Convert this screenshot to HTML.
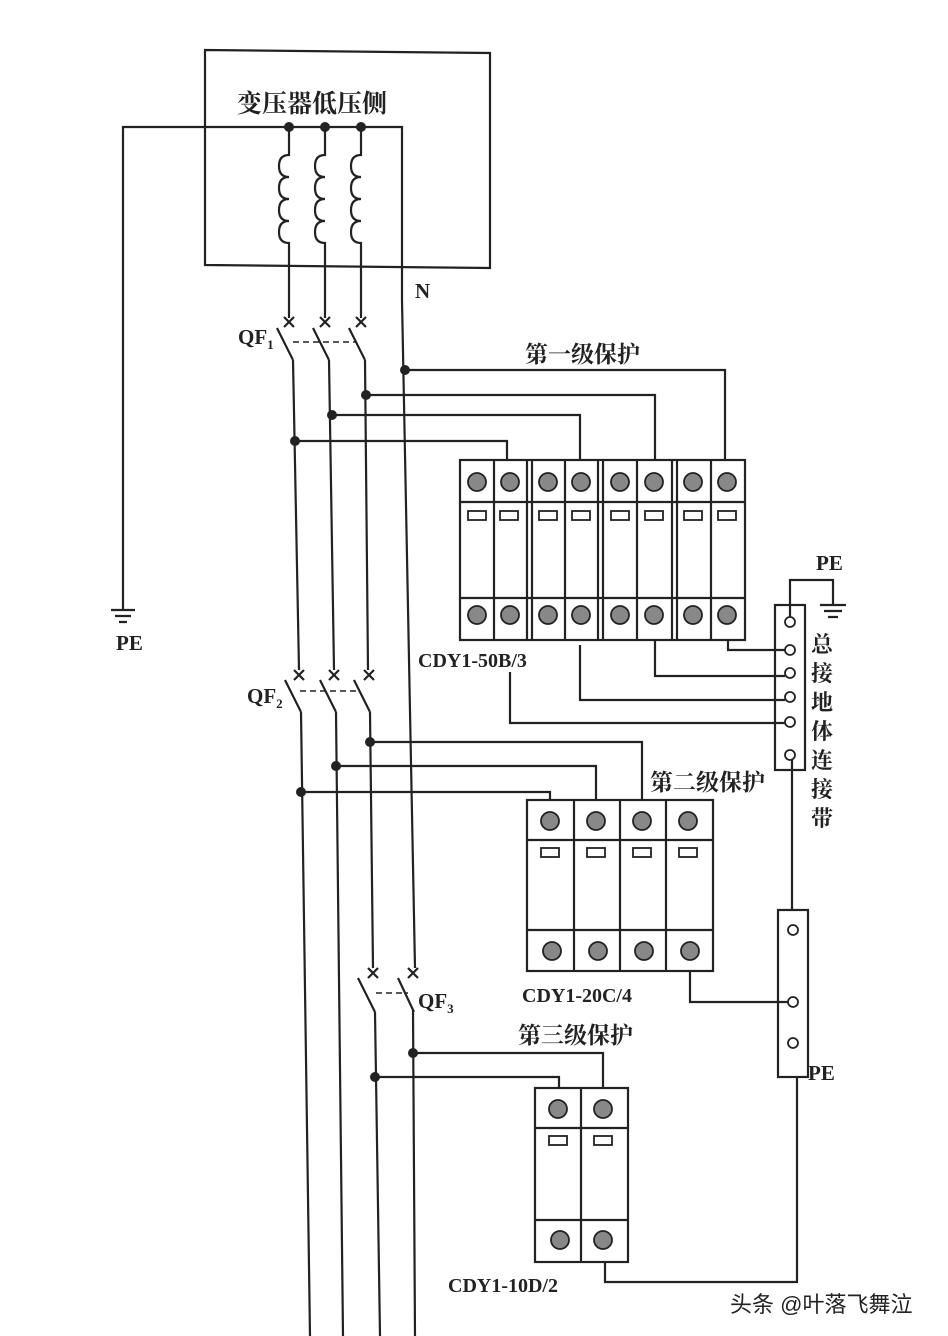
<!DOCTYPE html>
<html><head><meta charset="utf-8"><style>
html,body{margin:0;padding:0;background:#fff;}
svg{display:block}
text{font-family:"Liberation Serif","Noto Serif CJK SC",serif;fill:#222;font-weight:bold}
</style></head><body>
<svg width="948" height="1336" viewBox="0 0 948 1336" xmlns="http://www.w3.org/2000/svg">
<g stroke="#222" stroke-width="2.2" fill="none">
<polygon points="205,50 490,53 490,268 205,265"/>
<polyline points="123,610 123,127 402,127 402,300"/>
<path d="M289,127 V155 q-10,0 -10,11 q0,11 10,11 q-10,0 -10,11 q0,11 10,11 q-10,0 -10,11 q0,11 10,11 q-10,0 -10,11 q0,11 10,11 V318"/>
<path d="M325,127 V155 q-10,0 -10,11 q0,11 10,11 q-10,0 -10,11 q0,11 10,11 q-10,0 -10,11 q0,11 10,11 q-10,0 -10,11 q0,11 10,11 V318"/>
<path d="M361,127 V155 q-10,0 -10,11 q0,11 10,11 q-10,0 -10,11 q0,11 10,11 q-10,0 -10,11 q0,11 10,11 q-10,0 -10,11 q0,11 10,11 V318"/>
<line x1="402" y1="300" x2="415" y2="968"/>
<line x1="413" y1="1010" x2="415" y2="1336"/>
<path d="M284,317 l10,10 M294,317 l-10,10 M320,317 l10,10 M330,317 l-10,10 M356,317 l10,10 M366,317 l-10,10"/>
<path d="M277,328 L293,360 M313,328 L329,360 M349,328 L365,360"/>
<line x1="293" y1="342" x2="355" y2="342" stroke-dasharray="6,4" stroke-width="1.6"/>
<line x1="293" y1="360" x2="299" y2="670"/>
<line x1="329" y1="360" x2="334" y2="670"/>
<line x1="365" y1="360" x2="368" y2="670"/>
<path d="M294,670 l10,10 M304,670 l-10,10 M329,670 l10,10 M339,670 l-10,10 M364,670 l10,10 M374,670 l-10,10"/>
<path d="M285,680 L301,712 M320,680 L336,712 M354,680 L370,712"/>
<line x1="300" y1="691" x2="358" y2="691" stroke-dasharray="6,4" stroke-width="1.6"/>
<line x1="301" y1="712" x2="310" y2="1336"/>
<line x1="336" y1="712" x2="343" y2="1336"/>
<line x1="370" y1="712" x2="373" y2="968"/>
<path d="M368,968 l10,10 M378,968 l-10,10 M408,968 l10,10 M418,968 l-10,10"/>
<path d="M358,978 L375,1012 M398,978 L414,1012"/>
<line x1="376" y1="993" x2="408" y2="993" stroke-dasharray="6,4" stroke-width="1.6"/>
<line x1="375" y1="1012" x2="380" y2="1336"/>
<polyline points="405,370 725,370 725,460"/>
<polyline points="366,395 655,395 655,460"/>
<polyline points="332,415 580,415 580,460"/>
<polyline points="295,441 507,441 507,460"/>
<rect x="460" y="460" width="285" height="180"/>
<path d="M494,460 V640 M527,460 V640 M532,460 V640 M565,460 V640 M598,460 V640 M603,460 V640 M637,460 V640 M672,460 V640 M677,460 V640 M711,460 V640"/>
<path d="M460,502 H745 M460,598 H745"/>
<path d="M111,610 H135 M115,616 H131 M119,622 H127"/>
<rect x="775" y="605" width="30" height="165"/>
<polyline points="790,622 790,580 833,580 833,605"/>
<path d="M820,605 H846 M824,611 H842 M828,617 H838"/>
<polyline points="728,640 728,650 785,650"/>
<polyline points="655,640 655,676 785,676"/>
<polyline points="580,645 580,700 785,700"/>
<polyline points="510,672 510,723 785,723"/>
<line x1="792" y1="760" x2="792" y2="910"/>
<polyline points="370,742 642,742 642,800"/>
<polyline points="336,766 596,766 596,800"/>
<polyline points="301,792 550,792 550,800"/>
<rect x="527" y="800" width="186" height="171"/>
<path d="M574,800 V971 M620,800 V971 M666,800 V971 M527,840 H713 M527,930 H713"/>
<polyline points="690,971 690,1002 788,1002"/>
<rect x="778" y="910" width="30" height="167"/>
<polyline points="797,1077 797,1282 605,1282 605,1262"/>
<polyline points="413,1053 603,1053 603,1088"/>
<polyline points="375,1077 559,1077 559,1088"/>
<rect x="535" y="1088" width="93" height="174"/>
<path d="M581,1088 V1262 M535,1128 H628 M535,1220 H628"/>
</g>
<g fill="#222">
<circle cx="289" cy="127" r="5"/><circle cx="325" cy="127" r="5"/><circle cx="361" cy="127" r="5"/>
<circle cx="405" cy="370" r="5"/><circle cx="366" cy="395" r="5"/><circle cx="332" cy="415" r="5"/><circle cx="295" cy="441" r="5"/>
<circle cx="370" cy="742" r="5"/><circle cx="336" cy="766" r="5"/><circle cx="301" cy="792" r="5"/>
<circle cx="413" cy="1053" r="5"/><circle cx="375" cy="1077" r="5"/>
</g>
<g stroke="#222" stroke-width="1.8">
<g fill="#888">
<circle cx="477" cy="482" r="9"/><circle cx="510" cy="482" r="9"/><circle cx="548" cy="482" r="9"/><circle cx="581" cy="482" r="9"/><circle cx="620" cy="482" r="9"/><circle cx="654" cy="482" r="9"/><circle cx="693" cy="482" r="9"/><circle cx="727" cy="482" r="9"/>
<circle cx="477" cy="615" r="9"/><circle cx="510" cy="615" r="9"/><circle cx="548" cy="615" r="9"/><circle cx="581" cy="615" r="9"/><circle cx="620" cy="615" r="9"/><circle cx="654" cy="615" r="9"/><circle cx="693" cy="615" r="9"/><circle cx="727" cy="615" r="9"/>
<circle cx="550" cy="821" r="9"/><circle cx="596" cy="821" r="9"/><circle cx="642" cy="821" r="9"/><circle cx="688" cy="821" r="9"/>
<circle cx="552" cy="951" r="9"/><circle cx="598" cy="951" r="9"/><circle cx="644" cy="951" r="9"/><circle cx="690" cy="951" r="9"/>
<circle cx="558" cy="1109" r="9"/><circle cx="603" cy="1109" r="9"/>
<circle cx="560" cy="1240" r="9"/><circle cx="603" cy="1240" r="9"/>
</g>
<g fill="#fff">
<rect x="468" y="511" width="18" height="9"/><rect x="500" y="511" width="18" height="9"/><rect x="539" y="511" width="18" height="9"/><rect x="572" y="511" width="18" height="9"/><rect x="611" y="511" width="18" height="9"/><rect x="645" y="511" width="18" height="9"/><rect x="684" y="511" width="18" height="9"/><rect x="718" y="511" width="18" height="9"/>
<rect x="541" y="848" width="18" height="9"/><rect x="587" y="848" width="18" height="9"/><rect x="633" y="848" width="18" height="9"/><rect x="679" y="848" width="18" height="9"/>
<rect x="549" y="1136" width="18" height="9"/><rect x="594" y="1136" width="18" height="9"/>
<circle cx="790" cy="622" r="5"/><circle cx="790" cy="650" r="5"/><circle cx="790" cy="673" r="5"/><circle cx="790" cy="697" r="5"/><circle cx="790" cy="722" r="5"/><circle cx="790" cy="755" r="5"/>
<circle cx="793" cy="930" r="5"/><circle cx="793" cy="1002" r="5"/><circle cx="793" cy="1043" r="5"/>
</g>
</g>
<text x="237" y="112" font-size="25">变压器低压侧</text>
<text x="415" y="298" font-size="21">N</text>
<text x="238" y="344" font-size="21">QF<tspan font-size="13" dy="5">1</tspan></text>
<text x="247" y="703" font-size="21">QF<tspan font-size="13" dy="5">2</tspan></text>
<text x="418" y="1008" font-size="21">QF<tspan font-size="13" dy="5">3</tspan></text>
<text x="116" y="650" font-size="21">PE</text>
<text x="816" y="570" font-size="21">PE</text>
<text x="808" y="1080" font-size="21">PE</text>
<text x="525" y="362" font-size="23">第一级保护</text>
<text x="650" y="790" font-size="23">第二级保护</text>
<text x="518" y="1043" font-size="23">第三级保护</text>
<text x="418" y="667" font-size="20">CDY1-50B/3</text>
<text x="522" y="1002" font-size="20">CDY1-20C/4</text>
<text x="448" y="1292" font-size="20">CDY1-10D/2</text>
<g font-size="22">
<text x="811" y="652">总</text><text x="811" y="681">接</text><text x="811" y="710">地</text><text x="811" y="739">体</text><text x="811" y="768">连</text><text x="811" y="797">接</text><text x="811" y="826">带</text>
</g>
<text x="730" y="1312" font-size="22" style="font-family:'Liberation Sans','Noto Sans CJK SC',sans-serif;font-weight:normal">头条 @叶落飞舞泣</text>
</svg>
</body></html>
